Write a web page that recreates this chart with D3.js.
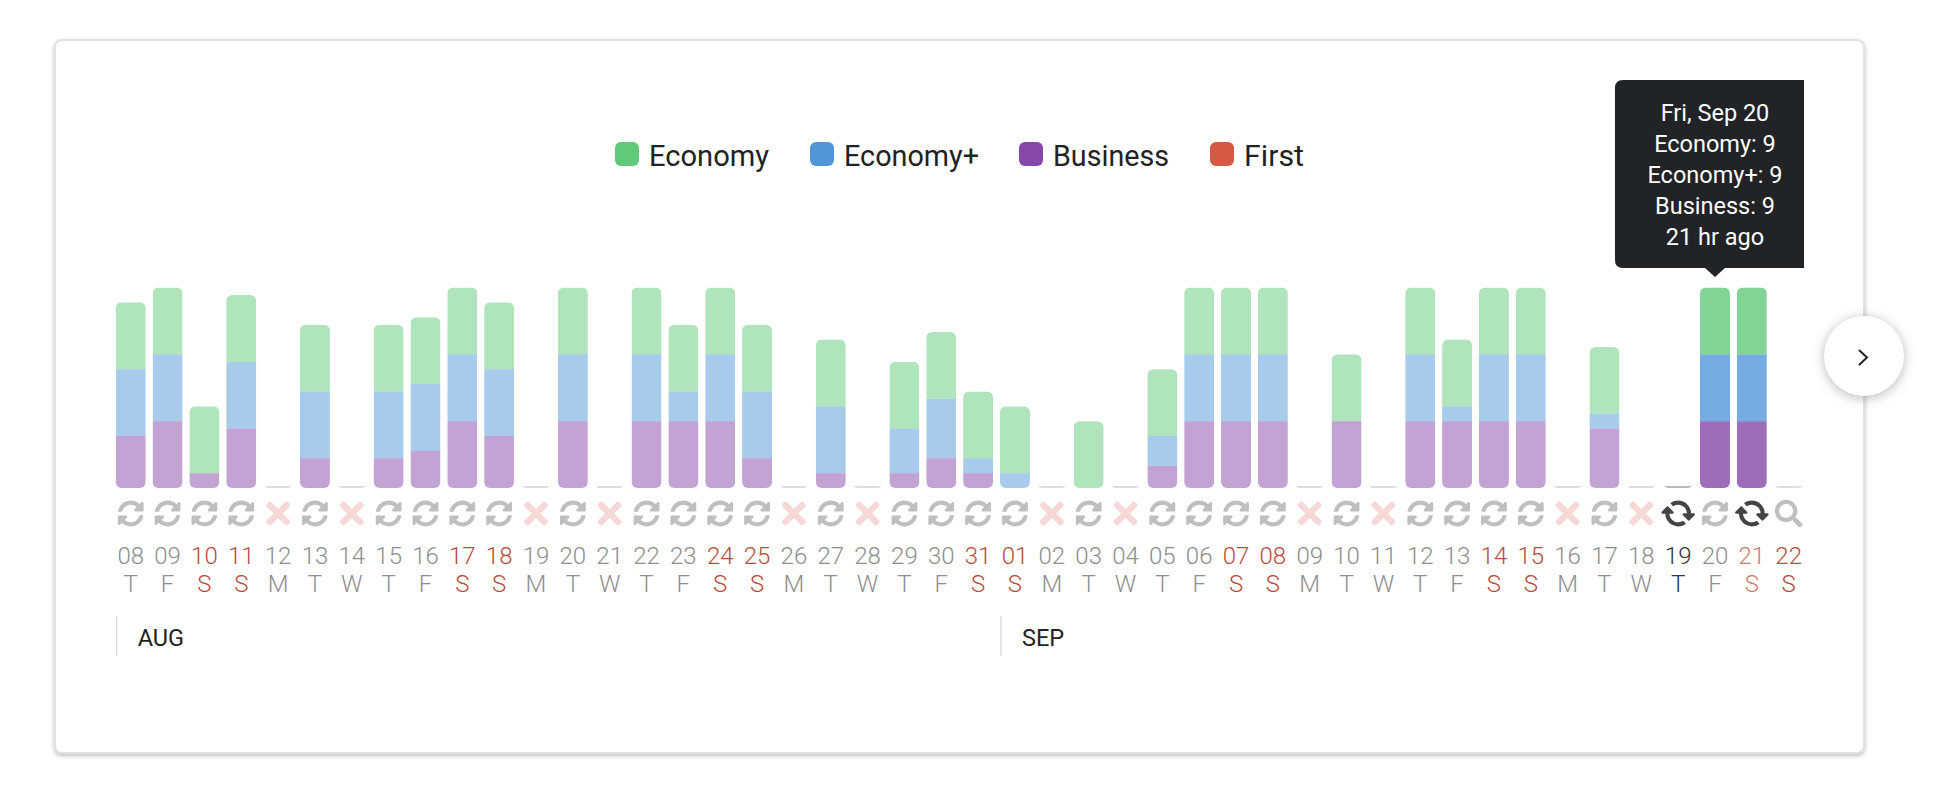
<!DOCTYPE html>
<html>
<head>
<meta charset="utf-8">
<script src="https://cdn.jsdelivr.net/npm/d3@7"></script>
<style>
html, body { margin: 0; padding: 0; background: #fff; }
svg { display: block; }
text { font-family: Roboto, "Liberation Sans", sans-serif; }
</style>
</head>
<body>
<svg width="1946" height="798"></svg>
<script>
var dayLabels = ["08","09","10","11","12","13","14","15","16","17","18","19","20","21","22","23","24","25","26","27","28","29","30","31",
    "01","02","03","04","05","06","07","08","09","10","11","12","13","14","15","16","17","18","19","20","21","22"];
var weekLabels = ["T","F","S","S","M","T","W","T","F","S","S","M","T","W","T","F","S","S","M","T","W","T","F","S",
    "S","M","T","W","T","F","S","S","M","T","W","T","F","S","S","M","T","W","T","F","S","S"];
var economy =     [9,9,9,9,0,9,0,9,9,9,9,0,9,0,9,9,9,9,0,9,0,9,9,9,9,0,9,0,9,9,9,9,0,9,0,9,9,9,9,0,9,0,0,9,9,0];
var economyPlus = [9,9,0,9,0,9,0,9,9,9,9,0,9,0,9,4,9,9,0,9,0,6,8,2,2,0,0,0,4,9,9,9,0,0,0,9,2,9,9,0,2,0,0,9,9,0];
var business =    [7,9,2,8,0,4,0,4,5,9,7,0,9,0,9,9,9,4,0,2,0,2,4,2,0,0,0,0,3,9,9,9,0,9,0,9,9,9,9,0,8,0,0,9,9,0];
// s = sync, x = no data, a = sync running, f = search
var dayStatus = ["s","s","s","s","x","s","x","s","s","s","s","x","s","x","s","s","s","s","x","s","x","s","s","s",
    "s","x","s","x","s","s","s","s","x","s","x","s","s","s","s","x","s","x","a","s","a","f"];
var months = [{label: "AUG", start: 0}, {label: "SEP", start: 24}];
var legendNames = ["Economy", "Economy+", "Business", "First"];
var tooltipLines = ["Fri, Sep 20", "Economy: 9", "Economy+: 9", "Business: 9", "21 hr ago"];
var highlighted = [43, 44];

var colors = {"Economy": "#62c97a", "Economy+": "#5296d8", "Business": "#8648a8", "First": "#d65a45"};

var svg = d3.select("svg");
var idx = d3.range(dayLabels.length);

var x = d3.scaleBand()
    .domain(idx)
    .range([112.3, 1807.1])
    .paddingInner(0.186)
    .paddingOuter(0.093);
var y = d3.scaleLinear()
    .domain([0, 27])
    .range([488, 287.5]);
function cx(i) { return x(i) + x.bandwidth() / 2; }

// card
svg.append("rect")
    .attr("x", 55).attr("y", 40)
    .attr("width", 1809).attr("height", 713)
    .attr("rx", 7)
    .attr("fill", "#fff")
    .attr("stroke", "#e2e2e2")
    .attr("stroke-width", 2)
    .style("filter", "drop-shadow(0 2px 2px rgba(0,0,0,.25))");

// legend
var legendX = {"Economy": 615, "Economy+": 810, "Business": 1019, "First": 1210};
var legendLen = {"Economy": 120, "Economy+": 135, "Business": 116, "First": 60};
var legend = svg.append("g").attr("class", "legend");
legendNames.forEach(function(name) {
    legend.append("rect")
        .attr("x", legendX[name]).attr("y", 142)
        .attr("width", 24).attr("height", 24)
        .attr("rx", 6)
        .attr("fill", colors[name]);
    legend.append("text")
        .attr("x", legendX[name] + 34).attr("y", 166)
        .attr("textLength", legendLen[name])
        .attr("lengthAdjust", "spacingAndGlyphs")
        .style("font-size", "30px")
        .attr("fill", "#222")
        .text(name);
});

// stacked bars
var rows = idx.map(function(i) {
    return {i: i, "Business": business[i], "Economy+": economyPlus[i], "Economy": economy[i]};
});
var stack = d3.stack().keys(["Business", "Economy+", "Economy"]);
var series = stack(rows);

var defs = svg.append("defs");
rows.forEach(function(d) {
    var total = d["Business"] + d["Economy+"] + d["Economy"];
    if (total == 0) return;
    defs.append("clipPath").attr("id", "bar" + d.i)
        .append("rect")
        .attr("x", x(d.i)).attr("y", y(total))
        .attr("width", x.bandwidth()).attr("height", y(0) - y(total))
        .attr("rx", 6);
});

var bars = svg.append("g").attr("class", "bars");
series.forEach(function(s) {
    bars.selectAll(null)
        .data(s.filter(function(d) { return d[1] > d[0]; }))
        .enter()
        .append("rect")
        .attr("clip-path", function(d) { return "url(#bar" + d.data.i + ")"; })
        .attr("x", function(d) { return x(d.data.i); })
        .attr("y", function(d) { return y(d[1]); })
        .attr("width", x.bandwidth())
        .attr("height", function(d) { return y(d[0]) - y(d[1]); })
        .attr("fill", colors[s.key])
        .attr("opacity", function(d) { return highlighted.indexOf(d.data.i) >= 0 ? 0.8 : 0.5; });
});

// empty days get a small dash on the baseline
svg.append("g").selectAll("path")
    .data(rows.filter(function(d) { return d["Business"] + d["Economy+"] + d["Economy"] == 0; }))
    .enter()
    .append("path")
    .attr("d", function(d) {
        var l = cx(d.i) - 14, r = cx(d.i) + 14;
        return "M" + l + "," + 486 + "H" + r + "Q" + (r - 2) + ",488 " + (r - 4) + ",488H" + (l + 4) + "Q" + (l + 2) + ",488 " + l + ",486Z";
    })
    .attr("fill", function(d) { return d.i == 42 ? "#bbb" : "#ddd"; });

// status icons
var syncPath = "M370.72 133.28C339.458 104.008 298.888 87.962 255.848 88c-77.458.068-144.328 53.178-162.791 126.85-1.344 5.363-6.122 9.15-11.651 9.15H24.103c-7.498 0-13.194-6.807-11.807-14.176C33.933 94.924 134.813 8 256 8c66.448 0 126.791 26.136 171.315 68.685L463.03 40.97C478.149 25.851 504 36.559 504 57.941V192c0 13.255-10.745 24-24 24H345.941c-21.382 0-32.09-25.851-16.971-40.971l41.75-41.749zM32 296h134.059c21.382 0 32.09 25.851 16.971 40.971l-41.75 41.75c31.262 29.273 71.835 45.319 114.876 45.28 77.418-.07 144.315-53.144 162.787-126.849 1.344-5.363 6.122-9.15 11.651-9.15h57.304c7.498 0 13.194 6.807 11.807 14.176C478.067 417.076 377.187 504 256 504c-66.448 0-126.791-26.136-171.315-68.685L48.97 471.03C33.851 486.149 8 475.441 8 454.059V320c0-13.255 10.745-24 24-24z";
var timesPath = "M242.72 256l100.07-100.07c12.28-12.28 12.28-32.19 0-44.48l-22.24-22.24c-12.28-12.28-32.19-12.28-44.48 0L176 189.28 75.93 89.21c-12.28-12.28-32.19-12.28-44.48 0L9.21 111.45c-12.28 12.28-12.28 32.19 0 44.48L109.28 256 9.21 356.07c-12.28 12.28-12.28 32.19 0 44.48l22.24 22.24c12.28 12.28 32.2 12.28 44.48 0L176 322.72l100.07 100.07c12.28 12.28 32.2 12.28 44.48 0l22.24-22.24c12.28-12.28 12.28-32.19 0-44.48L242.72 256z";
var searchPath = "M505 442.7L405.3 343c-4.5-4.5-10.6-7-17-7H372c27.6-35.3 44-79.7 44-128C416 93.1 322.9 0 208 0S0 93.1 0 208s93.1 208 208 208c48.3 0 92.7-16.4 128-44v16.3c0 6.4 2.5 12.5 7 17l99.7 99.7c9.4 9.4 24.6 9.4 33.9 0l28.3-28.3c9.4-9.4 9.4-24.6.1-34zM208 336c-70.7 0-128-57.2-128-128 0-70.7 57.2-128 128-128 70.7 0 128 57.2 128 128 0 70.7-57.2 128-128 128z";

var iconStyle = {
    s: {d: syncPath, w: 512, h: 512, scale: 0.052, rot: 0, fill: "#bfbfbf"},
    a: {d: syncPath, w: 512, h: 512, scale: 0.052, rot: 45, fill: "#444"},
    x: {d: timesPath, w: 352, h: 512, scale: 0.068, rot: 0, fill: "#f6d9d7"},
    f: {d: searchPath, w: 512, h: 512, scale: 0.054, rot: 0, fill: "#bfbfbf"}
};
svg.append("g").attr("class", "icons").selectAll("path")
    .data(idx)
    .enter()
    .append("path")
    .attr("d", function(i) { return iconStyle[dayStatus[i]].d; })
    .attr("fill", function(i) { return iconStyle[dayStatus[i]].fill; })
    .attr("transform", function(i) {
        var st = iconStyle[dayStatus[i]];
        return "translate(" + cx(i) + ",513.5) rotate(" + st.rot + ") scale(" + st.scale + ") translate(" + (-st.w / 2) + "," + (-st.h / 2) + ")";
    });

// date labels
function labelColor(i) {
    if (i == 42) return "#333";
    if (i == 44) return "#cf7b70";
    if (weekLabels[i] == "S") return "#b94c40";
    return "#8e8e8e";
}
var dates = svg.append("g").attr("class", "dates").attr("text-anchor", "middle");
dates.selectAll(".day")
    .data(idx)
    .enter()
    .append("text")
    .attr("class", "day")
    .attr("x", cx)
    .attr("y", 563.5)
    .style("font-size", "24px")
    .style("font-weight", 300)
    .attr("fill", labelColor)
    .text(function(i) { return dayLabels[i]; });
dates.selectAll(".week")
    .data(idx)
    .enter()
    .append("text")
    .attr("class", "week")
    .attr("x", cx)
    .attr("y", 592)
    .style("font-size", "24px")
    .style("font-weight", 300)
    .attr("fill", labelColor)
    .text(function(i) { return weekLabels[i]; });

// months
months.forEach(function(m) {
    var mx = cx(m.start) - 14;
    svg.append("line")
        .attr("x1", mx).attr("x2", mx)
        .attr("y1", 616).attr("y2", 656)
        .attr("stroke", "#ddd")
        .attr("stroke-width", 1.5);
    svg.append("text")
        .attr("x", mx + 21)
        .attr("y", 646)
        .style("font-size", "23.5px")
        .attr("fill", "#222")
        .text(m.label);
});

// tooltip on Sep 20, cut off at the right edge of the scroll area
var tipX = cx(43);
var tip = svg.append("g").attr("class", "tooltip");
tip.append("path")
    .attr("d", "M1804,80V268H" + (tipX + 10) + "L" + tipX + ",277L" + (tipX - 10) + ",268H1623Q1615,268 1615,260V88Q1615,80 1623,80Z")
    .attr("fill", "#212326");
tip.selectAll("text")
    .data(tooltipLines)
    .enter()
    .append("text")
    .attr("x", tipX)
    .attr("y", function(d, i) { return 121 + i * 31; })
    .attr("text-anchor", "middle")
    .style("font-size", "23.5px")
    .attr("fill", "#fff")
    .text(function(d) { return d; });

// next button
svg.append("circle")
    .attr("cx", 1864).attr("cy", 356).attr("r", 40)
    .attr("fill", "#fff")
    .style("filter", "drop-shadow(0 2px 6px rgba(0,0,0,.28))");
svg.append("path")
    .attr("d", "M1859,350L1867,357.5L1859,365")
    .attr("fill", "none")
    .attr("stroke", "#222")
    .attr("stroke-width", 2);
</script>
</body>
</html>
